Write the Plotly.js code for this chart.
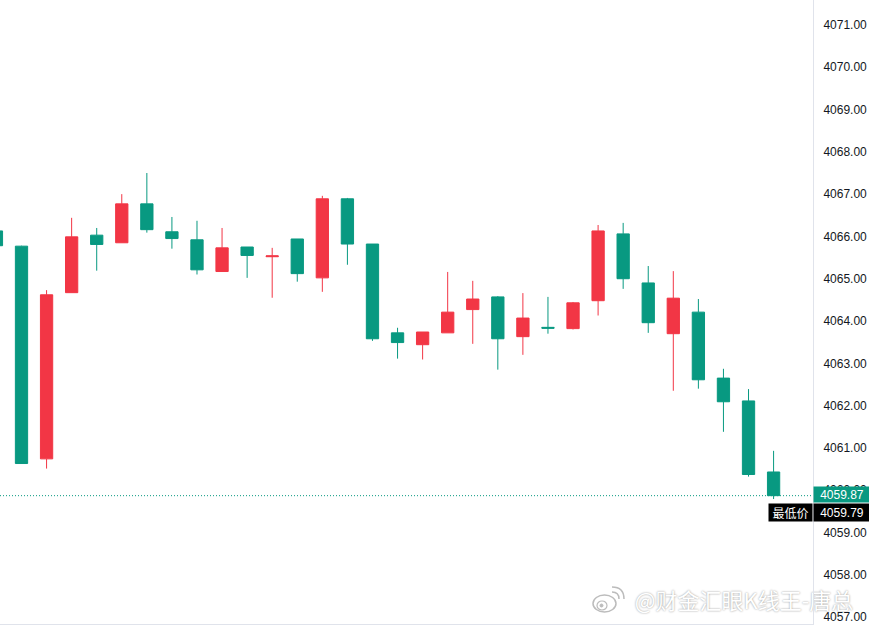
<!DOCTYPE html>
<html>
<head>
<meta charset="utf-8">
<script src="https://cdn.plot.ly/plotly-3.0.1.min.js"></script>
<style>
  html, body { margin: 0; padding: 0; background: #ffffff; }
  #chart { width: 869px; height: 625px; }
</style>
</head>
<body>
<div id="chart"></div>
<script>
// Bar positions (one per candle)
const barIndex = [0, 1, 2, 3, 4, 5, 6, 7, 8, 9, 10, 11, 12, 13, 14, 15,
                  16, 17, 18, 19, 20, 21, 22, 23, 24, 25, 26, 27, 28, 29, 30, 31];

// OHLC series
const openPrices = [4066.13, 4065.77, 4060.74, 4064.67, 4066.03, 4065.85, 4066.77, 4066.11,
                    4065.92, 4065.17, 4065.75, 4065.52, 4065.94, 4065.02, 4066.89, 4065.82,
                    4063.72, 4063.44, 4063.72, 4064.27, 4064.57, 4063.63, 4063.85, 4063.82,
                    4064.48, 4066.06, 4064.90, 4063.70, 4064.21, 4062.65, 4062.11, 4060.43];
const highPrices = [4066.25, 4065.78, 4064.73, 4066.44, 4066.20, 4067.00, 4067.50, 4066.46,
                    4066.37, 4066.20, 4065.75, 4065.73, 4065.94, 4066.96, 4066.91, 4065.82,
                    4063.84, 4063.74, 4065.16, 4064.95, 4064.59, 4064.66, 4064.57, 4064.45,
                    4066.27, 4066.32, 4065.30, 4065.18, 4064.52, 4062.87, 4062.39, 4060.93];
const lowPrices  = [4065.70, 4060.62, 4060.51, 4064.67, 4065.19, 4065.85, 4066.09, 4065.71,
                    4065.10, 4065.17, 4065.02, 4064.55, 4064.93, 4064.69, 4065.33, 4063.53,
                    4063.11, 4063.09, 4063.72, 4063.46, 4062.85, 4063.20, 4063.70, 4063.80,
                    4064.13, 4064.76, 4063.72, 4062.35, 4062.40, 4061.38, 4060.32, 4059.79];
const closePrices = [4065.78, 4060.63, 4064.62, 4065.99, 4065.81, 4066.77, 4066.16, 4065.95,
                     4065.21, 4065.73, 4065.55, 4065.54, 4065.12, 4066.89, 4065.82, 4063.58,
                     4063.49, 4063.74, 4064.21, 4064.52, 4063.58, 4064.07, 4063.83, 4064.43,
                     4066.13, 4065.00, 4063.96, 4064.54, 4062.61, 4062.09, 4060.37, 4059.87];

// Price scale ticks
const priceTicks = [4057, 4058, 4059, 4060, 4061, 4062, 4063, 4064,
                    4065, 4066, 4067, 4068, 4069, 4070, 4071];
const priceTickText = priceTicks.map(v => v.toFixed(2));

const lowLabelText = '最低价';
const watermarkText = '@财金汇眼K线王-唐总';

const UP = '#F23645';
const DOWN = '#089981';

const lastClose = closePrices[closePrices.length - 1];
const lowestLow = Math.min(...lowPrices);

// plot-area size in pixels, used to place the watermark in paper units
const PW = 813, PH = 624;
const px = v => v / PW;
const py = v => 1 - v / PH;

const trace = {
  type: 'candlestick',
  x: barIndex,
  open: openPrices,
  high: highPrices,
  low: lowPrices,
  close: closePrices,
  whiskerwidth: 0,
  increasing: { line: { color: UP, width: 1 }, fillcolor: UP },
  decreasing: { line: { color: DOWN, width: 1 }, fillcolor: DOWN },
  hoverinfo: 'skip'
};

const layout = {
  width: 869,
  height: 625,
  margin: { l: 0, r: 56, t: 0, b: 1, pad: 0 },
  paper_bgcolor: '#ffffff',
  plot_bgcolor: '#ffffff',
  showlegend: false,
  hovermode: false,
  dragmode: false,
  boxgap: 0.3,
  xaxis: {
    type: 'linear',
    range: [0.1424, 32.572],
    showgrid: false,
    zeroline: false,
    showticklabels: false,
    ticks: '',
    showline: true,
    linecolor: '#e0e3eb',
    linewidth: 1,
    rangeslider: { visible: false },
    fixedrange: true
  },
  yaxis: {
    side: 'right',
    range: [4056.835, 4071.591],
    tickvals: priceTicks,
    ticktext: priceTickText,
    ticks: '',
    ticklabelstandoff: 7,
    tickfont: { family: '"Liberation Sans", Arial, sans-serif', size: 12, color: '#131722' },
    showgrid: false,
    zeroline: false,
    showline: true,
    linecolor: '#e0e3eb',
    linewidth: 1,
    fixedrange: true
  },
  shapes: [
    // last price line
    {
      type: 'line', xref: 'paper', yref: 'y',
      x0: 0, x1: 1, y0: lastClose, y1: lastClose,
      line: { color: DOWN, width: 1, dash: '1px,2px' },
      layer: 'above'
    },
    // weibo logo
    {
      type: 'circle', xref: 'paper', yref: 'paper', layer: 'below',
      x0: px(593), x1: px(616), y0: py(612), y1: py(595),
      line: { color: '#bcbcbc', width: 1.5 }, fillcolor: '#ffffff'
    },
    {
      type: 'circle', xref: 'paper', yref: 'paper', layer: 'below',
      x0: px(597), x1: px(607), y0: py(610), y1: py(601),
      line: { color: '#bcbcbc', width: 1.2 }, fillcolor: '#ffffff'
    },
    {
      type: 'circle', xref: 'paper', yref: 'paper', layer: 'below',
      x0: px(600), x1: px(603), y0: py(607), y1: py(604),
      line: { color: '#bcbcbc', width: 1 }, fillcolor: '#bcbcbc'
    },
    {
      type: 'path', xref: 'paper', yref: 'paper', layer: 'below',
      path: `M ${px(612)} ${py(592)} Q ${px(619)} ${py(592)} ${px(619)} ${py(599)}`,
      line: { color: '#bcbcbc', width: 1.5 }
    },
    {
      type: 'path', xref: 'paper', yref: 'paper', layer: 'below',
      path: `M ${px(612)} ${py(587)} Q ${px(624)} ${py(587)} ${px(624)} ${py(599)}`,
      line: { color: '#bcbcbc', width: 1.5 }
    },
    // watermark text
    {
      type: 'rect', xref: 'paper', yref: 'paper', layer: 'below',
      x0: px(626), x1: px(862), y0: py(614), y1: py(591),
      line: { width: 0 }, fillcolor: 'rgba(0,0,0,0)',
      label: {
        text: watermarkText,
        textposition: 'middle center',
        padding: 0,
        font: {
          family: '"Noto Sans CJK SC", "Noto Sans", sans-serif',
          size: 22,
          color: '#ffffff',
          shadow: '0px 0px 2px rgba(0,0,0,0.45)'
        }
      }
    }
  ],
  annotations: [
    {
      xref: 'paper', yref: 'y', x: 1, y: lastClose,
      xanchor: 'left', yanchor: 'middle', yshift: 1,
      text: lastClose.toFixed(2), showarrow: false,
      bgcolor: DOWN, borderpad: 0, width: 56, height: 15,
      font: { family: '"Liberation Sans", Arial, sans-serif', size: 12, color: '#ffffff' }
    },
    {
      xref: 'paper', yref: 'y', x: 1, y: lowestLow,
      xanchor: 'left', yanchor: 'middle', yshift: -13.5,
      text: lowestLow.toFixed(2), showarrow: false,
      bgcolor: '#000000', borderpad: 0, width: 56, height: 17,
      font: { family: '"Liberation Sans", Arial, sans-serif', size: 12, color: '#ffffff' }
    },
    {
      xref: 'paper', yref: 'y', x: 1, y: lowestLow,
      xanchor: 'right', yanchor: 'middle', yshift: -13.5,
      text: lowLabelText, showarrow: false,
      bgcolor: '#000000', borderpad: 0, width: 43, height: 17,
      font: { family: '"Noto Sans CJK SC", sans-serif', size: 12, color: '#ffffff' }
    }
  ]
};

Plotly.newPlot('chart', [trace], layout, { displayModeBar: false, staticPlot: true });
</script>
</body>
</html>
